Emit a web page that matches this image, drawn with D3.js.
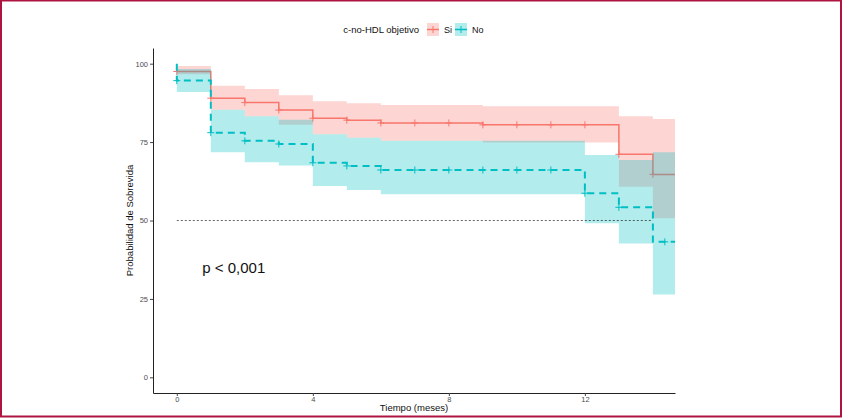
<!DOCTYPE html>
<html>
<head>
<meta charset="utf-8">
<script src="https://cdn.jsdelivr.net/npm/d3@7"></script>
<style>
    body { margin: 0; background: #fff; }
    svg { display: block; font-family: "Liberation Sans", Arial, sans-serif; }
</style>
</head>
<body>
<svg></svg>
<script>
const width = 842,
    height = 418;
const margin = { left: 153, right: 167, top: 48, bottom: 25 };

// grupo "Si"
const siTime = [0, 1, 2, 3, 4, 5, 6, 9, 13, 14];
const siSurv = [97.5, 89, 87.6, 85.2, 82.6, 82.0, 81.1, 80.5, 71.1, 64.7];
const siUpper = [99.3, 93, 91.9, 89.9, 88, 87.4, 86.8, 86.4, 83.2, 82.4];
const siLower = [96.6, 85.3, 83.2, 80.5, 77.5, 76.4, 75.4, 74.9, 60.8, 50.7];
const siCensor = [0, 1, 2, 3, 4, 5, 6, 7, 8, 9, 10, 11, 12, 13, 14];

// grupo "No"
const noTime = [0, 0, 1, 2, 3, 4, 5, 6, 12, 13, 14];
const noSurv = [100, 94.6, 78, 75.4, 74.4, 68.4, 67.4, 66.1, 58.7, 54.2, 43.2];
const noUpper = [98.3, 98.3, 85.3, 83.2, 82.1, 77.5, 76.4, 75.4, 70.9, 69.3, 71.8];
const noLower = [91, 91, 71.8, 68.6, 67.5, 61, 59.7, 58.4, 49.1, 42.7, 26.4];
const noCensor = [0, 1, 2, 3, 4, 5, 6, 7, 8, 9, 10, 11, 12, 13, 14.35];

const endTime = 14.65;
const medianTime = 14;
const xTicks = [0, 4, 8, 12];
const yTicks = [0, 25, 50, 75, 100];
const groups = ["Si", "No"];
const colors = ["#F8766D", "#00BFC4"];

const svg = d3.select("svg").attr("width", width).attr("height", height);

const xScale = d3
    .scaleLinear()
    .domain([-0.7, endTime])
    .range([margin.left, width - margin.right]);
const yScale = d3
    .scaleLinear()
    .domain([-5, 105])
    .range([height - margin.bottom, margin.top]);

const toRows = (time, surv, upper, lower) => {
    const rows = time.map((t, i) => ({ t: t, s: surv[i], u: upper[i], l: lower[i] }));
    const last = rows[rows.length - 1];
    rows.push({ t: endTime, s: last.s, u: last.u, l: last.l });
    return rows;
};

const survAt = (rows, t) => {
    let v = rows[0].s;
    rows.forEach((r) => {
        if (r.t <= t) v = r.s;
    });
    return v;
};

const series = [
    { rows: toRows(siTime, siSurv, siUpper, siLower), censor: siCensor, dash: null, lw: 1.5 },
    { rows: toRows(noTime, noSurv, noUpper, noLower), censor: noCensor, dash: "7,5", lw: 2 },
];

const line = d3
    .line()
    .curve(d3.curveStepAfter)
    .x((d) => xScale(d.t))
    .y((d) => yScale(d.s));
const area = d3
    .area()
    .curve(d3.curveStepAfter)
    .x((d) => xScale(d.t))
    .y0((d) => yScale(d.l))
    .y1((d) => yScale(d.u));

const drawCross = (g, cx, cy, color) => {
    g.append("line").attr("x1", cx - 3.5).attr("x2", cx + 3.5).attr("y1", cy).attr("y2", cy)
        .attr("stroke", color).attr("stroke-width", 1);
    g.append("line").attr("x1", cx).attr("x2", cx).attr("y1", cy - 3.5).attr("y2", cy + 3.5)
        .attr("stroke", color).attr("stroke-width", 1);
};

const generateCurves = () => {
    series.forEach((s, i) => {
        const g = svg.append("g");
        g.append("path")
            .attr("d", line(s.rows))
            .attr("fill", "none")
            .attr("stroke", colors[i])
            .attr("stroke-width", s.lw)
            .attr("stroke-dasharray", s.dash);
        s.censor.forEach((t) => drawCross(g, xScale(t), yScale(survAt(s.rows, t)), colors[i]));
        svg.append("path")
            .attr("d", area(s.rows))
            .attr("fill", colors[i])
            .attr("fill-opacity", 0.3);
    });

    svg.append("line")
        .attr("x1", xScale(0))
        .attr("x2", xScale(medianTime))
        .attr("y1", yScale(50))
        .attr("y2", yScale(50))
        .attr("stroke", "#000")
        .attr("stroke-width", 0.6)
        .attr("stroke-dasharray", "2,2");

    svg.append("text")
        .attr("x", xScale(0.75))
        .attr("y", yScale(35) + 5)
        .attr("font-size", 15)
        .attr("fill", "#111")
        .text("p < 0,001");
};

const generateAxes = () => {
    const xAxis = d3.axisBottom(xScale).tickValues(xTicks).tickSize(3).tickPadding(1).tickSizeOuter(0);
    const yAxis = d3.axisLeft(yScale).tickValues(yTicks).tickSize(3).tickPadding(2).tickSizeOuter(0);

    const gx = svg.append("g")
        .attr("transform", `translate(0, ${height - margin.bottom})`)
        .call(xAxis);
    const gy = svg.append("g")
        .attr("transform", `translate(${margin.left}, 0)`)
        .call(yAxis);

    [gx, gy].forEach((g) => {
        g.select(".domain").attr("stroke", "#222").attr("stroke-width", 1);
        g.selectAll(".tick line").attr("stroke", "#444");
        g.selectAll(".tick text")
            .attr("fill", "#4d4d4d")
            .attr("font-size", 7.5)
            .attr("font-family", "Liberation Sans, Arial, sans-serif");
    });

    svg.append("text")
        .attr("x", (margin.left + width - margin.right) / 2)
        .attr("y", 411)
        .attr("text-anchor", "middle")
        .attr("font-size", 9.5)
        .attr("fill", "#111")
        .text("Tiempo (meses)");

    svg.append("text")
        .attr("transform", `translate(133, ${(margin.top + height - margin.bottom) / 2}) rotate(-90)`)
        .attr("text-anchor", "middle")
        .attr("font-size", 9.5)
        .attr("fill", "#111")
        .text("Probabilidad de Sobrevida");
};

const generateLegend = () => {
    const g = svg.append("g");
    g.append("text")
        .attr("x", 419)
        .attr("y", 33)
        .attr("text-anchor", "end")
        .attr("font-size", 9.5)
        .attr("fill", "#111")
        .text("c-no-HDL objetivo");

    const keyX = [427, 455];
    groups.forEach((name, i) => {
        g.append("rect")
            .attr("x", keyX[i])
            .attr("y", 23)
            .attr("width", 12)
            .attr("height", 13)
            .attr("fill", colors[i])
            .attr("fill-opacity", 0.3);
        g.append("line")
            .attr("x1", keyX[i])
            .attr("x2", keyX[i] + 12)
            .attr("y1", 29.5)
            .attr("y2", 29.5)
            .attr("stroke", colors[i])
            .attr("stroke-width", 1.5);
        drawCross(g, keyX[i] + 6, 29.5, colors[i]);
        g.append("text")
            .attr("x", keyX[i] + 17)
            .attr("y", 33)
            .attr("font-size", 9)
            .attr("fill", "#111")
            .text(name);
    });
};

generateCurves();
generateAxes();
generateLegend();

svg.append("rect")
    .attr("x", 1)
    .attr("y", 0.5)
    .attr("width", 840)
    .attr("height", 416)
    .attr("fill", "none")
    .attr("stroke", "#ad1440")
    .attr("stroke-width", 2);
</script>
</body>
</html>
